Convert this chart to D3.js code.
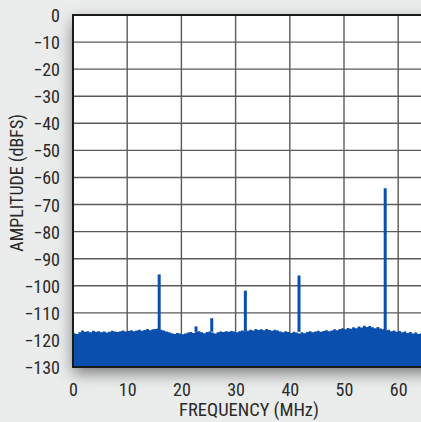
<!DOCTYPE html>
<html>
<head>
<meta charset="utf-8">
<script src="https://cdn.jsdelivr.net/npm/d3@7"></script>
<style>
  html, body { margin: 0; padding: 0; }
  body { width: 421px; height: 422px; overflow: hidden; background: #ebecec; }
  .tick text, .labelText { font-family: "Liberation Sans Narrow", "Roboto Condensed", "Liberation Sans", sans-serif; fill: #2a2a2a; }
</style>
</head>
<body>
<svg id="svg_fft"></svg>
<script>
// spectrum noise floor, one value every 0.5 MHz from 0 to 65 MHz (dBFS)
const noiseStep = 0.5;
const noiseFloor = [
  -117.5, -117.8, -117.2, -116.5, -117.0, -116.8, -117.2, -116.6, -117.0, -116.8,
  -117.2, -116.9, -117.3, -117.0, -116.6, -116.9, -117.1, -116.8, -116.5, -116.9,
  -116.7, -116.4, -116.8, -116.5, -116.2, -116.6, -116.3, -116.0, -116.4, -116.1,
  -116.0, -115.8, -116.2, -116.5, -116.9, -117.2, -117.5, -117.8, -117.4, -117.6,
  -117.9, -117.6, -117.3, -117.1, -117.4, -117.0, -116.8, -117.2, -117.5, -117.1,
  -116.9, -117.3, -117.6, -117.2, -116.9, -117.1, -116.8, -117.0, -116.7, -116.9,
  -117.2, -116.8, -116.5, -116.9, -116.6, -116.2, -116.5, -116.0, -116.3, -116.1,
  -116.4, -116.0, -116.3, -116.6, -116.2, -116.5, -116.9, -117.2, -116.8, -117.1,
  -117.4, -117.0, -117.3, -117.6, -117.2, -117.5, -117.1, -116.8, -117.2, -116.9,
  -116.6, -117.0, -116.7, -116.4, -116.8, -116.5, -116.1, -116.4, -116.0, -115.7,
  -116.1, -115.6, -115.9, -115.3, -115.7, -115.0, -115.4, -114.8, -115.2, -114.9,
  -115.3, -115.7, -115.2, -115.8, -116.1, -116.5, -116.2, -116.8, -116.5, -117.0,
  -116.7, -117.2, -116.9, -117.4, -117.1, -117.6, -117.3, -117.8, -117.5, -117.7,
  -117.6
];

// harmonics / spurs
const spurFreqs = [15.9, 22.7, 25.6, 31.8, 41.7, 57.6];
const spurLevels = [-95.8, -115.0, -112.0, -101.8, -96.2, -64.0];

const xTicks = [0, 10, 20, 30, 40, 50, 60];
const yTicks = [0, -10, -20, -30, -40, -50, -60, -70, -80, -90, -100, -110, -120, -130];

const xTitle = 'FREQUENCY (MHz)';
const yTitle = 'AMPLITUDE (dBFS)';

const width = 421;
const height = 422;
const margin = { top: 15, left: 73, bottom: 55 };

const svg = d3.select('#svg_fft')
  .attr('width', width)
  .attr('height', height);

const x = d3.scaleLinear()
  .domain([0, 65])
  .range([margin.left, margin.left + 65 * 5.42]);

const y = d3.scaleLinear()
  .domain([-130, 0])
  .range([height - margin.bottom, margin.top]);

// soft shadow under the plot
const defs = svg.append('defs');
const filter = defs.append('filter')
  .attr('id', 'shadow')
  .attr('x', '-20%').attr('y', '-20%')
  .attr('width', '140%').attr('height', '140%');
filter.append('feDropShadow')
  .attr('dx', 0).attr('dy', 6)
  .attr('stdDeviation', 8)
  .attr('flood-color', '#000')
  .attr('flood-opacity', 0.5);

svg.append('rect')
  .attr('x', x(0))
  .attr('y', y(0))
  .attr('width', width + 20 - x(0))
  .attr('height', y(-130) - y(0))
  .attr('fill', 'white')
  .attr('filter', 'url(#shadow)');

// grid
const grid = svg.append('g');
grid.selectAll('line.gx')
  .data(xTicks.slice(1))
  .enter()
  .append('line')
  .attr('x1', d => x(d)).attr('x2', d => x(d))
  .attr('y1', y(0)).attr('y2', y(-130))
  .attr('stroke', '#5a5a5a')
  .attr('stroke-width', 1.4);
grid.selectAll('line.gy')
  .data(yTicks.slice(1, -1))
  .enter()
  .append('line')
  .attr('x1', x(0)).attr('x2', width)
  .attr('y1', d => y(d)).attr('y2', d => y(d))
  .attr('stroke', '#5a5a5a')
  .attr('stroke-width', 1.4);

// spectrum
const blue = '#0a4fae';
const floorData = noiseFloor.map((v, i) => ({ f: i * noiseStep, v }));

const area = d3.area()
  .x(d => x(d.f))
  .y0(y(-130))
  .y1(d => y(d.v))
  .curve(d3.curveStepAfter);

svg.append('path')
  .datum(floorData)
  .attr('d', area)
  .attr('fill', blue);

svg.append('g')
  .selectAll('line')
  .data(spurFreqs)
  .enter()
  .append('line')
  .attr('x1', d => x(d)).attr('x2', d => x(d))
  .attr('y1', y(-117))
  .attr('y2', (d, i) => y(spurLevels[i]))
  .attr('stroke', blue)
  .attr('stroke-width', 3);

// frame
svg.append('path')
  .attr('d', `M${width},${y(0)}H${x(0)}V${y(-130)}H${width}`)
  .attr('fill', 'none')
  .attr('stroke', '#1a1a1a')
  .attr('stroke-width', 2);

// axes
const yAxis = svg.append('g')
  .attr('transform', `translate(${x(0) - 10},0)`)
  .call(d3.axisLeft(y).tickValues(yTicks).tickSize(0).tickFormat(d => d3.format('')(d).replace('-', '\u2212')));
yAxis.select('.domain').remove();
yAxis.selectAll('text')
  .attr('dx', 0)
  .attr('dy', '0.36em')
  .style('font-size', '18px');

const xAxis = svg.append('g')
  .attr('transform', `translate(0,${y(-130) + 10})`)
  .call(d3.axisBottom(x).tickValues(xTicks).tickSize(0));
xAxis.select('.domain').remove();
xAxis.selectAll('text')
  .attr('dy', '0.9em')
  .style('font-size', '18px');

svg.append('text')
  .text(xTitle)
  .attr('class', 'labelText')
  .attr('x', 249)
  .attr('y', 416)
  .attr('text-anchor', 'middle')
  .style('font-size', '18.5px');

svg.append('text')
  .text(yTitle)
  .attr('class', 'labelText')
  .attr('transform', `translate(23, ${y(-62)}) rotate(-90)`)
  .attr('text-anchor', 'middle')
  .style('font-size', '18px');
</script>
</body>
</html>
